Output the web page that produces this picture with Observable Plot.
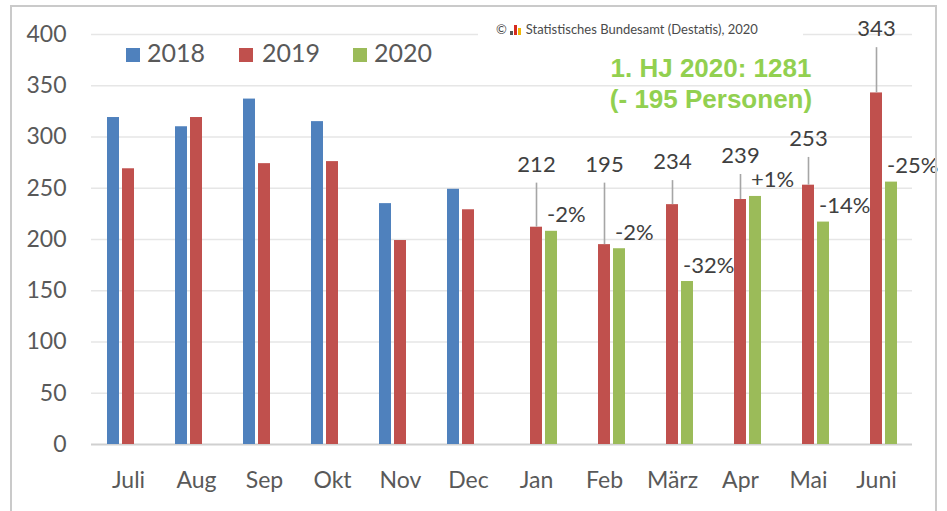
<!DOCTYPE html>
<html>
<head>
<meta charset="utf-8">
<script src="https://cdn.jsdelivr.net/npm/d3@7"></script>
<script src="https://cdn.jsdelivr.net/npm/@observablehq/plot@0.6"></script>
<style>
  body { margin: 0; background: #fff; }
  #wrap { position: relative; width: 947px; height: 511px; overflow: hidden; font-family: Lato, "Noto Sans", sans-serif; }
  #wrap svg { position: absolute; left: 0; top: 0; }
  .ov { position: absolute; white-space: nowrap; }
  #frame { position: absolute; left: 10px; top: 5px; width: 927px; height: 530px; border: 2px solid #cacaca; box-sizing: border-box; pointer-events: none; }
  .sq { position: absolute; width: 14px; height: 14px; }
  .lg { position: absolute; font-size: 25px; line-height: 25px; color: #595959; }
  #source { left: 478px; top: 18px; width: 325px; height: 22px; background: #fff; font-size: 13px; line-height: 22px; color: #4a4a4a; padding-left: 18px; box-sizing: border-box; }
  #hj { left: 561px; top: 53px; width: 300px; text-align: center; font-family: "Liberation Sans", Arial, sans-serif; font-weight: bold; font-size: 26px; line-height: 31px; color: #92D050; }
  .logo { display: inline-flex; align-items: flex-end; height: 10px; vertical-align: -1px; margin: 0 4px 0 3px; }
  .logo i { display: block; width: 3px; margin-right: 1px; }
</style>
</head>
<body>
<div id="wrap"></div>
<script>
// ---- data ----
const months = ["Juli", "Aug", "Sep", "Okt", "Nov", "Dec", "Jan", "Feb", "März", "Apr", "Mai", "Juni"];
const years = ["2018", "2019", "2020"];
const months2018 = ["Juli", "Aug", "Sep", "Okt", "Nov", "Dec"];
const values2018 = [319, 310, 337, 315, 235, 249];
const months2019 = ["Juli", "Aug", "Sep", "Okt", "Nov", "Dec", "Jan", "Feb", "März", "Apr", "Mai", "Juni"];
const values2019 = [269, 319, 274, 276, 199, 229, 212, 195, 234, 239, 253, 343];
const months2020 = ["Jan", "Feb", "März", "Apr", "Mai", "Juni"];
const values2020 = [208, 191, 159, 242, 217, 256];
const pctLabels = ["-2%", "-2%", "-32%", "+1%", "-14%", "-25%"];
const yTicks = [0, 50, 100, 150, 200, 250, 300, 350, 400];
const sourceText = "Statistisches Bundesamt (Destatis), 2020";
const hjLines = ["1. HJ 2020: 1281", "(- 195 Personen)"];

const colors = {"2018": "#4F81BD", "2019": "#C0504D", "2020": "#9BBB59"};

const d2018 = months2018.map((m, i) => ({month: m, value: values2018[i]}));
const d2019 = months2019.map((m, i) => ({month: m, value: values2019[i]}));
const d2020 = months2020.map((m, i) => ({month: m, value: values2020[i], label: pctLabels[i]}));
const d2019H1 = d2019.filter(d => months2020.includes(d.month));

// label placement (above the 2019 bars, with leader lines)
const labelY = v => Math.max(1.19 * v - 3, 273);

const offset = 15;

const chart = Plot.plot({
  width: 947,
  height: 511,
  marginLeft: 91,
  marginRight: 35,
  marginTop: 34,
  marginBottom: 67,
  style: {fontFamily: "Lato, 'Noto Sans', sans-serif", fontSize: "23px", color: "#595959", background: "transparent"},
  x: {domain: months, paddingInner: 0.8246, paddingOuter: 0.4123, tickSize: 0, tickPadding: 27, label: null},
  y: {domain: [0, 400], ticks: yTicks, tickSize: 0, tickPadding: 25, label: null},
  marks: [
    Plot.ruleY(yTicks.filter(d => d > 0), {stroke: "#e6e6e6", strokeWidth: 1.6}),
    Plot.ruleY([0], {stroke: "#d0d0d0", strokeWidth: 2.2}),
    Plot.barY(d2018, {x: "month", y: "value", fill: colors["2018"], dx: -offset}),
    Plot.barY(d2019, {x: "month", y: "value", fill: colors["2019"]}),
    Plot.barY(d2020, {x: "month", y: "value", fill: colors["2020"], dx: offset}),
    Plot.ruleX(d2019H1, {x: "month", y1: "value", y2: d => labelY(d.value) - 18, stroke: "#a6a6a6", strokeWidth: 1.6}),
    Plot.text(d2019H1, {x: "month", y: d => labelY(d.value), text: d => String(d.value), fontSize: 22, fill: "#404040"}),
    Plot.text(d2020, {x: "month", y: "value", text: "label", textAnchor: "start", dx: 10.5, dy: -16, fontSize: 22, fill: "#404040"})
  ]
});

const wrap = document.getElementById("wrap");
wrap.appendChild(chart);

// legend overlay
const legendPos = [{sq: 126, tx: 147}, {sq: 239, tx: 262}, {sq: 353, tx: 374}];
years.forEach((y, i) => {
  const s = document.createElement("div");
  s.className = "sq";
  s.style.left = legendPos[i].sq + "px";
  s.style.top = "48px";
  s.style.background = colors[y];
  wrap.appendChild(s);
  const t = document.createElement("div");
  t.className = "lg";
  t.style.left = legendPos[i].tx + "px";
  t.style.top = "40px";
  t.textContent = y;
  wrap.appendChild(t);
});

// source line
const src = document.createElement("div");
src.className = "ov";
src.id = "source";
src.innerHTML = '©<span class="logo"><i style="height:4px;background:#555"></i><i style="height:10px;background:#d62b1f"></i><i style="height:7px;background:#f2b705"></i></span>' + sourceText;
wrap.appendChild(src);

// annotation
const hj = document.createElement("div");
hj.className = "ov";
hj.id = "hj";
hj.innerHTML = hjLines.join("<br>");
wrap.appendChild(hj);

const frame = document.createElement("div");
frame.id = "frame";
wrap.appendChild(frame);
</script>
</body>
</html>
